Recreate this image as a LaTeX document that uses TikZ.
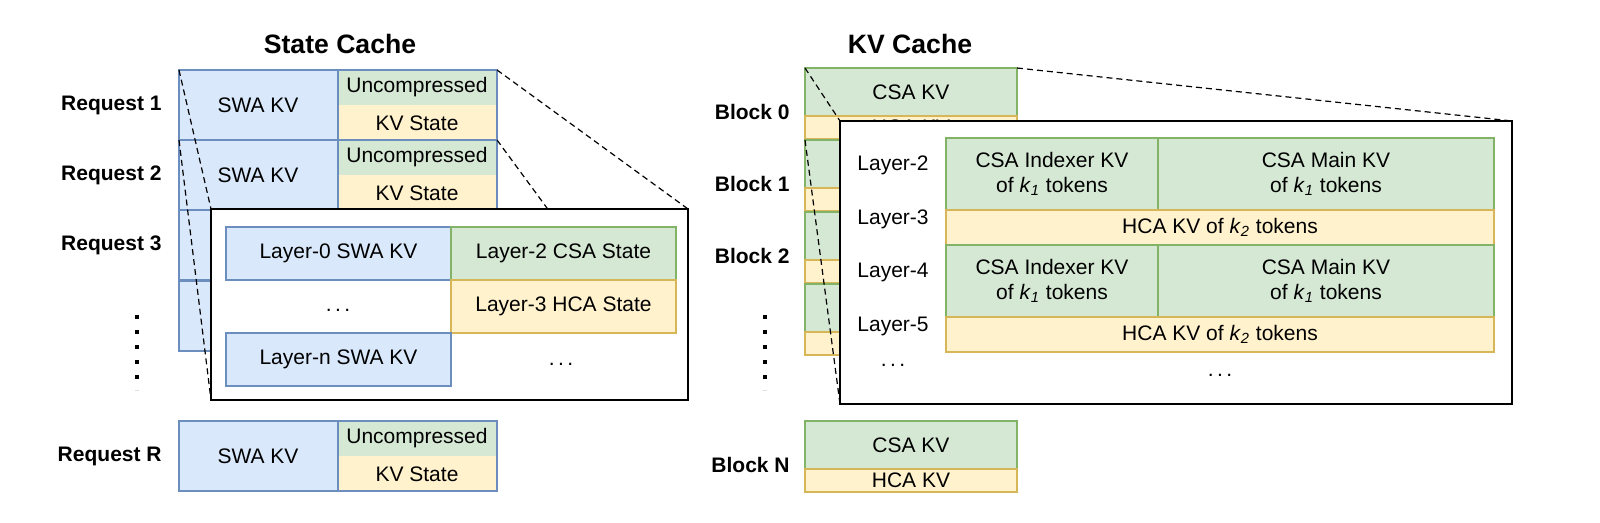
\documentclass[tikz,border=0pt]{standalone}
\usepackage{fontspec}
\setmainfont{Liberation Sans}
\begin{document}
\begin{tikzpicture}[x=0.5pt,y=-0.5pt,
  every node/.style={font=\fontsize{10.5}{12.5}\selectfont, align=center, inner sep=0},
  bc/.style={fill={rgb,255:red,218;green,232;blue,252}, draw={rgb,255:red,108;green,142;blue,191}, line width=0.75pt},
  gc/.style={fill={rgb,255:red,213;green,232;blue,212}, draw={rgb,255:red,130;green,179;blue,102}, line width=0.75pt},
  yc/.style={fill={rgb,255:red,255;green,242;blue,204}, draw={rgb,255:red,214;green,182;blue,86}, line width=0.75pt},
  gf/.style={fill={rgb,255:red,213;green,232;blue,212}},
  yf/.style={fill={rgb,255:red,255;green,242;blue,204}},
  bo/.style={draw={rgb,255:red,108;green,142;blue,191}, line width=0.75pt},
  lab/.style={font=\fontsize{10.5}{12.5}\selectfont\bfseries},
  ttl/.style={font=\fontsize{13.3}{15}\selectfont\bfseries},
  inset/.style={draw=black, fill=white, line width=0.8pt},
  zl/.style={line width=0.6pt, dash pattern=on 3pt off 2pt},
  dotc/.style={line width=2pt, dash pattern=on 2pt off 5.5pt}]
% ---------- State cache
\node[ttl] (t1) at (340,44) {State Cache};
\foreach \y/\lbl in {70/Request 1,140/Request 2,210/Request 3,281/,421/Request R}{
  \path[bc] (179,\y) rectangle (338,\y+70);
  \path[gf] (338,\y) rectangle (497,\y+35);
  \path[yf] (338,\y+35) rectangle (497,\y+70);
  \draw[bo] (179,\y) rectangle (497,\y+70) (338,\y) -- (338,\y+70);
  \node at (258,\y+35) {SWA KV};
  \node at (417,\y+17) {Uncompressed};
  \node at (417,\y+53) {KV State};
  \node[lab,anchor=east] at (162,\y+35) {\lbl};
}
\coordinate (d1a) at (137,315); \coordinate (d1b) at (137,390);
\draw[dotc] (d1a) -- (d1b);
\coordinate (r1a) at (179,70); \coordinate (r1b) at (497,70);
\coordinate (r2a) at (179,140); \coordinate (r2b) at (497,140);
\draw[zl] (r1a) -- (211,209);
\draw[zl] (r1b) -- (688,209);
\draw[zl] (r2a) -- (211,400);
\draw[zl] (r2b) -- (688,400);
\node[inset, minimum width=477pt*0.5, minimum height=191pt*0.5] (ins1) at (449.5,304.5) {};
\draw[bc] (226,227) rectangle node{Layer-0 SWA KV} (451,280);
\draw[gc] (451,227) rectangle node{Layer-2 CSA State} (676,280);
\draw[yc] (451,280) rectangle node{Layer-3 HCA State} (676,333);
\draw[bc] (226,333) rectangle node{Layer-n SWA KV} (451,386);
\node at (338,310) {.\,.\,.};
\node at (561,364) {.\,.\,.};
% ---------- KV cache
\node[ttl] (t2) at (910,44) {KV Cache};
\foreach \y/\lbl in {68/Block 0,140/Block 1,212/Block 2,284/,421/Block N}{
  \draw[gc] (805,\y) rectangle node{CSA KV} (1017,\y+48);
  \draw[yc] (805,\y+48) rectangle node{HCA KV} (1017,\y+71);
  \node[lab,anchor=east] at (790,\y+44) {\lbl};
}
\coordinate (d2a) at (765,315); \coordinate (d2b) at (765,390);
\draw[dotc] (d2a) -- (d2b);
\draw[zl] (805,68) -- (840,121);
\draw[zl] (1017,68) -- (1512,121);
\draw[zl] (805,140) -- (840,404);
\node[inset, minimum width=672pt*0.5, minimum height=283pt*0.5] (ins2) at (1176,262.5) {};
\foreach \y/\a/\b in {138/2/3,245/4/5}{
  \draw[gc] (946,\y) rectangle node{CSA Indexer KV\\of \textit{k}\textsubscript{\textit{1}} tokens} (1158,\y+72);
  \draw[gc] (1158,\y) rectangle node{CSA Main KV\\of \textit{k}\textsubscript{\textit{1}} tokens} (1494,\y+72);
  \draw[yc] (946,\y+72) rectangle node{HCA KV of \textit{k}\textsubscript{\textit{2}} tokens} (1494,\y+107);
  \node at (893,\y+27) {Layer-\a};
  \node at (893,\y+81) {Layer-\b};
}
\node at (893,365) {.\,.\,.};
\node at (1220,375) {.\,.\,.};
\pgfresetboundingbox
\useasboundingbox (0,0) rectangle (1600,523);
\end{tikzpicture}
\end{document}
